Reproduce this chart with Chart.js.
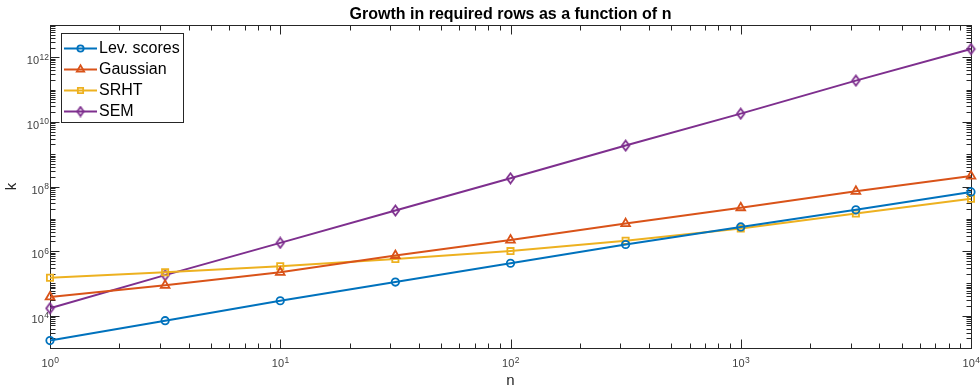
<!DOCTYPE html>
<html><head><meta charset="utf-8">
<script src="https://cdn.jsdelivr.net/npm/chart.js@4/dist/chart.umd.min.js"></script>
<style>html,body{margin:0;padding:0;background:#fff;}#wrap{width:980px;height:388px;}</style>
</head><body><div id="wrap"><canvas id="c" width="980" height="388"></canvas></div>
<script>
// ---- data ----
const titleText = 'Growth in required rows as a function of n';
const xLabel = 'n';
const yLabel = 'k';
const nValues = [1, 3.1623, 10, 31.623, 100, 316.23, 1000, 3162.3, 10000];
const seriesNames = ['Lev. scores', 'Gaussian', 'SRHT', 'SEM'];
const levScores = [1700, 7000, 29000, 110000, 420000, 1.6e6, 5.6e6, 1.9e7, 6.8e7];
const gaussian  = [3.8e4, 8.7e4, 2.2e5, 7.3e5, 2.2e6, 7.1e6, 2.2e7, 7.1e7, 2.1e8];
const srht      = [1.5e5, 2.2e5, 3.4e5, 5.7e5, 1.0e6, 2.1e6, 5.0e6, 1.45e7, 4.2e7];
const sem       = [1.7e4, 1.8e5, 1.8e6, 1.8e7, 1.8e8, 1.85e9, 1.8e10, 1.9e11, 1.8e12];
const xTickExponents = [0, 1, 2, 3, 4];
const yTickExponents = [4, 6, 8, 10, 12];
const xRange = [1, 1e4];
const yRange = [1e3, 1e13];

// ---- styles ----
const FONT = "'Liberation Sans', Arial, Helvetica, sans-serif";
const AX = '#262626';
const colors = ['#0072BD', '#D95319', '#EDB120', '#7E2F8E'];

function makeDiamond(color, w, h) {
  const c = document.createElement('canvas');
  c.width = w; c.height = h;
  const g = c.getContext('2d');
  g.strokeStyle = color; g.lineWidth = 1.8;
  g.beginPath();
  g.moveTo(w / 2, 1.5); g.lineTo(w - 1.8, h / 2); g.lineTo(w / 2, h - 1.5); g.lineTo(1.8, h / 2);
  g.closePath(); g.stroke();
  return c;
}
const diamondPlot = makeDiamond(colors[3], 11, 13);
const diamondLegend = makeDiamond(colors[3], 10, 12);
const pointStyles = ['circle', 'triangle', 'rect', diamondPlot];
const legendStyles = ['circle', 'triangle', 'rect', diamondLegend];
const pointRadii = [3.7, 5, 4.4, 4];
const allSeries = [levScores, gaussian, srht, sem];

const datasets = allSeries.map((vals, i) => ({
  label: seriesNames[i],
  data: nValues.map((n, j) => ({ x: n, y: vals[j] })),
  borderColor: colors[i],
  backgroundColor: colors[i],
  borderWidth: 2,
  pointStyle: pointStyles[i],
  pointRadius: pointRadii[i],
  pointBorderWidth: 1.8,
  pointBackgroundColor: 'rgba(255,255,255,0)',
  pointBorderColor: colors[i],
  tension: 0,
  clip: false
}));

function drawPow(ctx, exp, x, y, align, baseSize, supSize) {
  ctx.font = baseSize + 'px ' + FONT;
  const wb = ctx.measureText('10').width;
  ctx.font = supSize + 'px ' + FONT;
  const ws = ctx.measureText(String(exp)).width;
  let x0;
  if (align === 'center') x0 = x - (wb + ws) / 2;
  else x0 = x - (wb + ws);
  ctx.textAlign = 'left';
  ctx.textBaseline = 'alphabetic';
  ctx.font = baseSize + 'px ' + FONT;
  ctx.fillText('10', x0, y);
  ctx.font = supSize + 'px ' + FONT;
  ctx.fillText(String(exp), x0 + wb + 0.5, y - 4.5);
}

const matlabAxes = {
  id: 'matlabAxes',
  beforeDatasetsDraw(chart) {
    const ctx = chart.ctx;
    const { left, right, top, bottom } = chart.chartArea;
    const xs = chart.scales.x, ys = chart.scales.y;
    ctx.save();
    ctx.strokeStyle = AX; ctx.fillStyle = AX; ctx.lineWidth = 1;
    const L = Math.round(left) + 0.5, R = Math.round(right) + 0.5;
    const T = Math.round(top) + 0.5, B = Math.round(bottom) + 0.5;
    ctx.strokeRect(L, T, R - L, B - T);
    ctx.beginPath();
    const xe0 = Math.log10(xRange[0]), xe1 = Math.log10(xRange[1]);
    for (let e = xe0; e <= xe1; e++) {
      for (let m = 1; m <= 9; m++) {
        if (e === xe1 && m > 1) break;
        const v = m * Math.pow(10, e);
        const px = Math.round(xs.getPixelForValue(v)) + 0.5;
        const len = (m === 1 && xTickExponents.includes(e)) ? 9 : 5;
        ctx.moveTo(px, B); ctx.lineTo(px, B - len);
        ctx.moveTo(px, T); ctx.lineTo(px, T + len);
      }
    }
    const ye0 = Math.log10(yRange[0]), ye1 = Math.log10(yRange[1]);
    for (let e = ye0; e <= ye1; e++) {
      for (let m = 1; m <= 9; m++) {
        if (e === ye1 && m > 1) break;
        const v = m * Math.pow(10, e);
        const py = Math.round(ys.getPixelForValue(v)) + 0.5;
        const len = (m === 1 && yTickExponents.includes(e)) ? 9 : 5;
        ctx.moveTo(L, py); ctx.lineTo(L + len, py);
        ctx.moveTo(R, py); ctx.lineTo(R - len, py);
      }
    }
    ctx.stroke();
    // tick labels
    ctx.fillStyle = '#404040';
    xTickExponents.forEach(e => {
      const px = xs.getPixelForValue(Math.pow(10, e));
      drawPow(ctx, e, px, 367, 'center', 11, 8.5);
    });
    yTickExponents.forEach(e => {
      const py = ys.getPixelForValue(Math.pow(10, e));
      drawPow(ctx, e, left - 1.5, py + 7, 'right', 11, 8.5);
    });
    // axis labels
    ctx.fillStyle = AX;
    ctx.font = '15px ' + FONT;
    ctx.textAlign = 'center'; ctx.textBaseline = 'middle';
    ctx.fillText(xLabel, (left + right) / 2, 380.5);
    ctx.save();
    ctx.translate(12, (top + bottom) / 2);
    ctx.rotate(-Math.PI / 2);
    ctx.fillText(yLabel, 0, 0);
    ctx.restore();
    // title
    ctx.fillStyle = '#000';
    ctx.font = 'bold 16px ' + FONT;
    ctx.textAlign = 'center'; ctx.textBaseline = 'alphabetic';
    ctx.fillText(titleText, (left + right) / 2, 18.5);
    ctx.restore();
  },
  afterDatasetsDraw(chart) {
    const ctx = chart.ctx;
    ctx.save();
    const bx = 61.5, by = 33.5, bw = 122, bh = 89;
    ctx.fillStyle = '#fff';
    ctx.fillRect(bx, by, bw, bh);
    ctx.strokeStyle = AX; ctx.lineWidth = 1;
    ctx.strokeRect(bx, by, bw, bh);
    seriesNames.forEach((name, i) => {
      const y = 48.5 + i * 21;
      ctx.strokeStyle = colors[i]; ctx.lineWidth = 2;
      ctx.beginPath(); ctx.moveTo(64, y); ctx.lineTo(97, y); ctx.stroke();
      ctx.lineWidth = 1.8;
      ctx.fillStyle = 'rgba(255,255,255,0)';
      Chart.helpers.drawPoint(ctx, { pointStyle: legendStyles[i], radius: pointRadii[i] * 0.85, borderWidth: 1.8, rotation: 0 }, 80.5, y);
      ctx.fillStyle = '#000';
      ctx.font = '16px ' + FONT;
      ctx.textAlign = 'left'; ctx.textBaseline = 'middle';
      ctx.fillText(name, 99, y + 0.5);
    });
    ctx.restore();
  }
};

new Chart(document.getElementById('c'), {
  type: 'line',
  data: { datasets },
  options: {
    responsive: false,
    animation: false,
    layout: { padding: { left: 50, right: 9, top: 25, bottom: 40 } },
    scales: {
      x: { type: 'logarithmic', min: xRange[0], max: xRange[1], display: false },
      y: { type: 'logarithmic', min: yRange[0], max: yRange[1], display: false }
    },
    plugins: { legend: { display: false }, tooltip: { enabled: false }, title: { display: false } }
  },
  plugins: [matlabAxes]
});
</script>
</body></html>
